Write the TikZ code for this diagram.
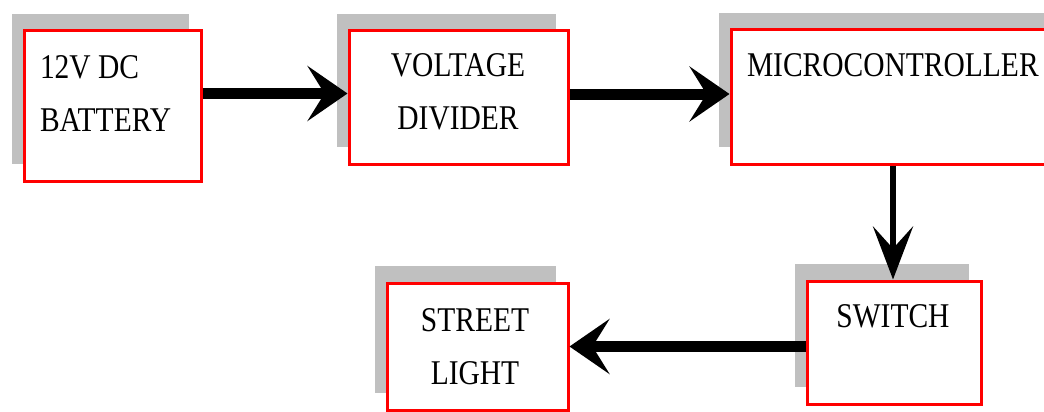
\documentclass[tikz,border=0pt]{standalone}
\usepackage{fontspec}
\setmainfont[FakeStretch=0.85]{Liberation Serif}
\usetikzlibrary{arrows.meta,shadows,calc}
\definecolor{shadowgray}{HTML}{C0C0C0}
\definecolor{boxred}{HTML}{FF0000}
\tikzset{
  blockbox/.style={draw=boxred, line width=3pt, fill=white, inner sep=0pt,
    general shadow={fill=shadowgray, shadow xshift=-12pt, shadow yshift=17pt}},
  lbl/.style={inner sep=0pt, outer sep=0pt, font=\fontsize{34.7}{53}\selectfont, text=black},
  harrow/.style={line width=11pt, -{Stealth[length=40pt, width=55pt, inset=17pt]}},
  varrow/.style={line width=6.5pt, -{Stealth[length=53pt, width=40pt, inset=22pt]}}
}
\begin{document}
\begin{tikzpicture}[x=1pt, y=-1pt]
\useasboundingbox (0,0) rectangle (1044,412);
\begin{scope}
\clip (0,0) rectangle (1044,412);
% blocks
\node[blockbox, minimum width=177pt, minimum height=150pt] (b1) at (112.5,106) {};
\node[blockbox, minimum width=219pt, minimum height=133pt] (b2) at (458.5,97.5) {};
\node[blockbox, minimum width=340pt, minimum height=134pt] (b3) at (901,97) {};
\node[blockbox, minimum width=174pt, minimum height=123pt] (b4) at (894,342.5) {};
\node[blockbox, minimum width=181pt, minimum height=127pt] (b5) at (477.5,346.5) {};
% labels
\node[lbl, anchor=base west] (t1) at (40,78) {\begin{tabular}[t]{@{}l@{}}12V DC\\BATTERY\end{tabular}};
\node[lbl, anchor=base] (t2) at (458,77) {\begin{tabular}[t]{@{}c@{}}VOLTAGE\\DIVIDER\end{tabular}};
\node[lbl, anchor=base west] (t3) at (747,77) {MICROCONTROLLER};
\node[lbl, anchor=base] (t4) at (893,327) {SWITCH};
\node[lbl, anchor=base] (t5) at (475,331) {\begin{tabular}[t]{@{}c@{}}STREET\\LIGHT\end{tabular}};
% connectors
\draw[harrow] ([yshift=4pt]b2.west -| b1.east) -- ([yshift=4pt]b2.west);
\draw[harrow] ([yshift=3pt]b3.west -| b2.east) -- ([yshift=3pt]b3.west);
\draw[varrow] ([xshift=-1pt]b4.north |- b3.south) -- ([xshift=-1pt]b4.north);
\draw[harrow] (b5.east -| b4.west) -- (b5.east);
\end{scope}
\end{tikzpicture}
\end{document}
